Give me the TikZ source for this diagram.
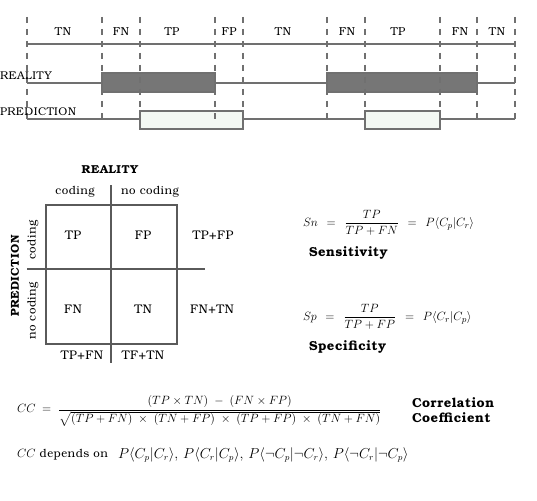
\documentclass[tikz,border=0pt]{standalone}
\usepackage{amsmath}
\usepackage{fontspec}
\setmainfont[LetterSpace=4]{TeX Gyre Bonum}
\begin{document}
\begin{tikzpicture}[x=1pt,y=-1pt,
  every node/.style={inner sep=0pt,outer sep=0pt},
  dashline/.style={draw=linegray,line width=1.8pt,dash pattern=on 6pt off 6pt},
  tline/.style={draw=linegray,line width=1.8pt},
  rbar/.style={draw=linegray,line width=1.2pt,fill=barfill},
  pbox/.style={draw=linegray,line width=1.6pt,fill=lightfill},
  mline/.style={draw=matline,line width=1.5pt},
  seglabel/.style={font=\fontsize{11.5}{13}\selectfont},
  rowlabel/.style={font=\fontsize{11.2}{13}\selectfont,anchor=west},
  cellstyle/.style={font=\fontsize{12.5}{14}\selectfont},
  hdrstyle/.style={font=\fontsize{11.5}{13}\selectfont},
  ttlstyle/.style={font=\bfseries\fontsize{11.5}{13}\selectfont},
  eqstyle/.style={font=\fontsize{12.5}{14}\selectfont,anchor=west},
  namestyle/.style={font=\bfseries\fontsize{13}{14.5}\selectfont,anchor=west,align=left}]
\definecolor{linegray}{RGB}{112,112,112}
\definecolor{barfill}{RGB}{118,118,118}
\definecolor{lightfill}{RGB}{243,248,243}
\definecolor{matline}{RGB}{90,90,90}
\useasboundingbox[fill=white] (0,0) rectangle (537,500);
% ---- timeline ----
\draw[tline] (27,44) -- (515,44);
\draw[tline] (27,83) -- (515,83);
\draw[tline] (27,119) -- (515,119);
\draw[rbar] (102,73) rectangle (215,92);
\draw[rbar] (327,73) rectangle (477,92);
\draw[pbox] (140,111) rectangle (243,129);
\draw[pbox] (365,111) rectangle (440,129);
\foreach \x in {27,102,140,215,243,327,365,440,477,515}
  \draw[dashline] (\x,17) -- (\x,121);
\node[seglabel] (s1) at (63,32) {TN};
\node[seglabel] (s2) at (121,32) {FN};
\node[seglabel] (s3) at (172,32) {TP};
\node[seglabel] (s4) at (229,32) {FP};
\node[seglabel] (s5) at (283,32) {TN};
\node[seglabel] (s6) at (347,32) {FN};
\node[seglabel] (s7) at (398,32) {TP};
\node[seglabel] (s8) at (460,32) {FN};
\node[seglabel] (s9) at (497,32) {TN};
\node[rowlabel] (real) at (0,76) {REALITY};
\node[rowlabel] (pred) at (0,112) {PREDICTION};
% ---- confusion matrix ----
\draw[mline] (46,205) rectangle (177,344);
\draw[mline] (111,185) -- (111,363);
\draw[mline] (27,269) -- (205,269);
\node[ttlstyle] (mreal) at (110,170) {REALITY};
\node[hdrstyle] (hc1) at (75,192) {coding};
\node[hdrstyle] (hc2) at (150,192) {no coding};
\node[ttlstyle,rotate=90] (mpred) at (15,276) {PREDICTION};
\node[hdrstyle,rotate=90] (vc1) at (33,240) {coding};
\node[hdrstyle,rotate=90] (vc2) at (33,311) {no coding};
\node[cellstyle] (tp) at (73,235) {TP};
\node[cellstyle] (fp) at (143,235) {FP};
\node[cellstyle] (tpfp) at (213,235) {TP+FP};
\node[cellstyle] (fn) at (73,309) {FN};
\node[cellstyle] (tn) at (143,309) {TN};
\node[cellstyle] (fntn) at (212,309) {FN+TN};
\node[cellstyle] (tpfn) at (82,355) {TP+FN};
\node[cellstyle] (tftn) at (143,355) {TF+TN};
% ---- formulas ----
\node[eqstyle,font=\fontsize{13}{15}\selectfont] (sn) at (303,223) {$Sn \;\,=\;\, \dfrac{TP}{TP+FN} \;\,=\;\, P\langle C_p|C_r\rangle$};
\node[namestyle] (sens) at (309,253) {Sensitivity};
\node[eqstyle,font=\fontsize{13}{15}\selectfont] (sp) at (303,317) {$Sp \;\,=\;\, \dfrac{TP}{TP+FP} \;\,=\;\, P\langle C_r|C_p\rangle$};
\node[namestyle] (spec) at (309,347) {Specificity};
\node[eqstyle] (cc) at (17,411) {$CC \;=\; \dfrac{(TP\times TN)\;-\;(FN\times FP)}{\sqrt{(TP+FN)\;\times\;(TN+FP)\;\times\;(TP+FP)\;\times\;(TN+FN)}}$};
\node[namestyle] (ccname) at (412,410) {Correlation\\Coefficient};
\node[eqstyle,font=\fontsize{11.5}{13}\selectfont] (dep) at (17,455) {{\fontsize{12.5}{14}\selectfont$CC$} depends on};
\node[eqstyle,font=\fontsize{13.5}{15}\selectfont] (deplist) at (118,455) {$P\langle C_p|C_r\rangle,\, P\langle C_r|C_p\rangle,\, P\langle\neg C_p|\neg C_r\rangle,\, P\langle\neg C_r|\neg C_p\rangle$};
\end{tikzpicture}
\end{document}
